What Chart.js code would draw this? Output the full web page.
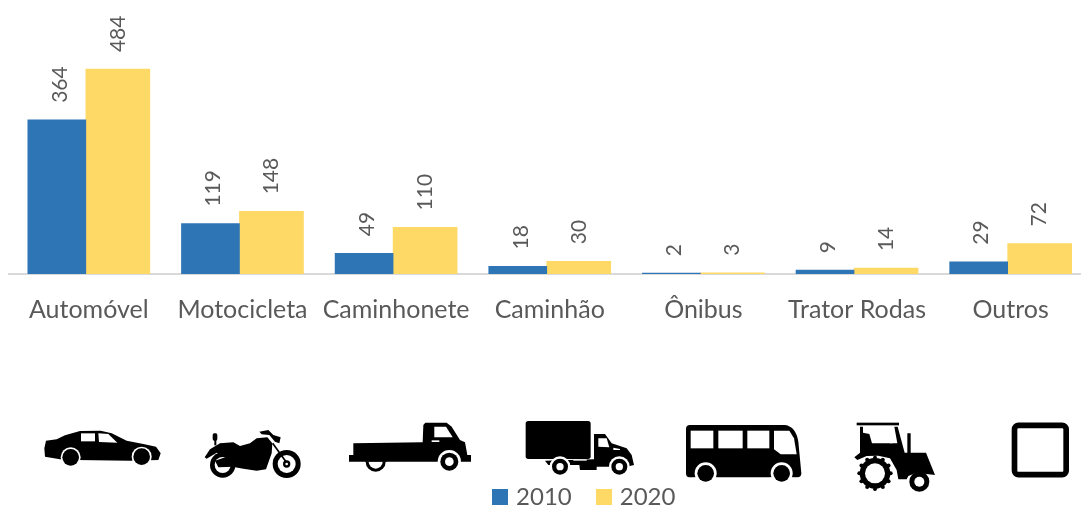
<!DOCTYPE html>
<html><head><meta charset="utf-8">
<style>html,body{margin:0;padding:0;background:#fff;overflow:hidden;width:1081px;height:509px}canvas{display:block}</style>
<script src="https://cdn.jsdelivr.net/npm/chart.js@4"></script>
</head><body><canvas id="c" width="1100" height="509"></canvas>
<script>
const categories=["Automóvel","Motocicleta","Caminhonete","Caminhão","Ônibus","Trator Rodas","Outros"];
const seriesNames=["2010","2020"];
const values2010=[364,119,49,18,2,9,29];
const values2020=[484,148,110,30,3,14,72];
const colors=["#2E75B6","#FFD966"];
const FONT="Lato, 'Open Sans', sans-serif";
const TEXT="#595959";

function swatch(color){const s=document.createElement('canvas');s.width=16;s.height=16;const g=s.getContext('2d');g.fillStyle=color;g.fillRect(0,0,16,16);return s;}

function poly(ctx,pts){ctx.beginPath();pts.forEach((p,i)=>i?ctx.lineTo(p[0],p[1]):ctx.moveTo(p[0],p[1]));ctx.closePath();ctx.fill();}
function disc(ctx,x,y,r,col){ctx.fillStyle=col;ctx.beginPath();ctx.arc(x,y,r,0,Math.PI*2);ctx.fill();}
function rrect(ctx,x,y,w,h,r){ctx.beginPath();ctx.roundRect(x,y,w,h,r);ctx.fill();}
const K='#000',W='#fff';
function drawCar(c){
  c.fillStyle=K;poly(c,[[48,92],[80,88],[105,76],[150,63],[212,62],[245,70],[290,92],[340,102],[378,110],[392,130],[385,150],[300,152],[140,150],[90,148],[45,140],[43,115]]);
  c.fillStyle=W;poly(c,[[153,70],[195,70],[195,94],[153,94]]);poly(c,[[205,70],[235,72],[262,98],[207,96]]);
  disc(c,122,142,30,W);disc(c,335,140,30,W);
  c.fillStyle=W;c.fillRect(85,153,75,20);c.fillRect(300,153,75,20);
  disc(c,122,142,25,K);disc(c,335,140,25,K);
}
function drawMoto(c){
  disc(c,578,165,38,K);disc(c,578,165,24,W);
  c.fillStyle=K;poly(c,[[555,152],[590,140],[612,150],[612,170],[565,172]]);
  disc(c,770,162,42,K);disc(c,770,162,27,W);disc(c,770,162,11,K);disc(c,770,162,4,W);
  c.fillStyle=K;
  poly(c,[[524,142],[540,118],[570,100],[610,97],[630,108],[660,100],[680,85],[712,82],[727,100],[725,130],[708,178],[680,182],[640,176],[615,172],[600,150],[560,128],[530,146]]);
  rrect(c,548,70,14,22,5);c.fillRect(553,90,6,16);
  poly(c,[[688,65],[715,60],[730,75],[752,82],[748,100],[735,95],[718,75],[695,73]]);
  c.strokeStyle=K;c.lineWidth=5;c.beginPath();c.moveTo(728,100);c.lineTo(768,155);c.stroke();
}
function drawPickup(c){
  c.fillStyle=K;poly(c,[[250,45],[256,38],[320,38],[335,50],[360,90],[375,97],[382,135],[393,135],[393,155],[27,155],[27,135],[40,135],[40,100],[248,97]]);
  c.fillStyle=W;poly(c,[[283,50],[318,50],[338,82],[283,82]]);poly(c,[[275,91],[298,91],[298,96],[275,96]]);
  disc(c,328,155,35,W);disc(c,328,155,27,K);disc(c,328,155,13,W);
  c.fillStyle=K;c.beginPath();c.arc(107,155,30,0,Math.PI);c.fill();
  c.fillStyle=W;c.beginPath();c.arc(107,155,21,0,Math.PI);c.fill();
  c.fillStyle=K;c.fillRect(75,148,65,7);
}
function drawTruck(c){
  c.fillStyle=K;rrect(c,557,33,195,114,8);
  poly(c,[[762,72],[795,72],[815,100],[860,115],[875,135],[882,165],[860,170],[770,170],[770,180],[720,180],[718,165],[625,165],[615,152],[762,148]]);
  c.fillStyle=W;poly(c,[[775,85],[800,85],[808,112],[775,110]]);poly(c,[[820,113],[840,117],[840,120],[820,120]]);poly(c,[[700,148],[740,148],[740,152],[700,152]]);
  disc(c,660,170,31,W);disc(c,660,170,24,K);disc(c,660,170,11,W);
  disc(c,838,170,31,W);disc(c,838,170,24,K);disc(c,838,170,11,W);
}
function drawBus(c){
  c.fillStyle=K;c.beginPath();c.moveTo(60,45);c.lineTo(345,45);c.quadraticCurveTo(378,50,385,95);c.lineTo(394,190);c.quadraticCurveTo(394,202,382,202);c.lineTo(58,202);c.quadraticCurveTo(48,202,48,190);c.lineTo(48,57);c.quadraticCurveTo(48,45,60,45);c.closePath();c.fill();
  c.fillStyle=W;c.fillRect(62,62,68,53);c.fillRect(145,62,73,53);c.fillRect(232,62,66,53);
  poly(c,[[312,62],[358,62],[372,85],[380,133],[332,133],[312,118]]);
  disc(c,107,190,33,W);disc(c,335,190,33,W);c.fillStyle=W;c.fillRect(70,203,70,20);c.fillRect(298,203,75,20);
  disc(c,107,190,25,K);disc(c,335,190,25,K);
}
function drawTractor(c){
  c.fillStyle=K;c.fillRect(560,38,127,8);
  poly(c,[[570,50],[579,50],[579,68],[598,72],[606,100],[682,100],[673,50],[683,50],[704,128],[712,128],[712,70],[722,70],[722,128],[768,128],[795,195],[770,192],[735,190],[715,198],[710,208],[685,208],[680,180],[660,145],[625,137],[590,138],[562,150],[553,142],[570,128]]);
  c.fillStyle=W;poly(c,[[636,88],[652,72],[656,76],[650,84],[668,100],[660,100],[646,86],[640,92]]);
  disc(c,615,190,46,K);
  for(let i=0;i<12;i++){const a=i*Math.PI/6;disc(c,615+47*Math.cos(a),190+47*Math.sin(a),6,K);}
  disc(c,615,190,30,W);
  disc(c,748,215,30,K);disc(c,748,215,15,W);
}
function drawSquare(c){c.strokeStyle=K;c.lineWidth=17;c.beginPath();c.roundRect(1033.5,46,155,148,12);c.stroke();}

const iconPlugin={id:'icons',afterDraw(chart){const c=chart.ctx;
  [[30,410,[drawCar,drawMoto]],[340,410,[drawPickup,drawTruck]],[670,410,[drawBus,drawTractor,drawSquare]]].forEach(([ox,oy,fns])=>{
    fns.forEach(fn=>{c.save();c.translate(ox,oy);c.scale(1/3,1/3);fn(c);c.restore();});
  });
}};
const valueLabels={id:'valueLabels',afterDatasetsDraw(chart){const c=chart.ctx;c.save();
  c.fillStyle=TEXT;c.font="21px "+FONT;c.textAlign='left';c.textBaseline='middle';
  chart.data.datasets.forEach((ds,d)=>{chart.getDatasetMeta(d).data.forEach((bar,i)=>{
    c.save();c.translate(bar.x+(d===0?3:0),bar.y-17);c.rotate(-Math.PI/2);c.fillText(String(ds.data[i]),0,0);c.restore();
  });});c.restore();
}};
const legendPlace={id:'legendPlace',afterLayout(chart){const l=chart.legend;const dx=39;l.left+=dx;l.right+=dx;const h=l.bottom-l.top;l.top=457;l.bottom=457+h;}};

new Chart(document.getElementById('c'),{
  type:'bar',
  data:{labels:categories,datasets:[
    {label:seriesNames[0],data:values2010,backgroundColor:colors[0],barThickness:58},
    {label:seriesNames[1],data:values2020,backgroundColor:colors[1],barThickness:64}
  ]},
  options:{responsive:false,animation:false,
    layout:{padding:{left:9,right:15.5,top:3,bottom:101}},
    scales:{
      x:{grid:{display:false,drawTicks:false},border:{color:'#D9D9D9',width:2},
        ticks:{color:TEXT,font:{family:FONT,size:25},padding:21,labelOffset:3,maxRotation:0,autoSkip:false}},
      y:{display:false,min:0,max:640}
    },
    plugins:{tooltip:{enabled:false},
      legend:{position:'bottom',labels:{color:TEXT,font:{family:FONT,size:24},usePointStyle:true,pointStyleWidth:8,boxHeight:16,padding:28,
        generateLabels:(chart)=>chart.data.datasets.map((d,i)=>({text:d.label,fontColor:TEXT,datasetIndex:i,hidden:false,pointStyle:swatch(colors[i])}))}}
    }
  },
  plugins:[valueLabels,iconPlugin,legendPlace]
});
</script></body></html>
